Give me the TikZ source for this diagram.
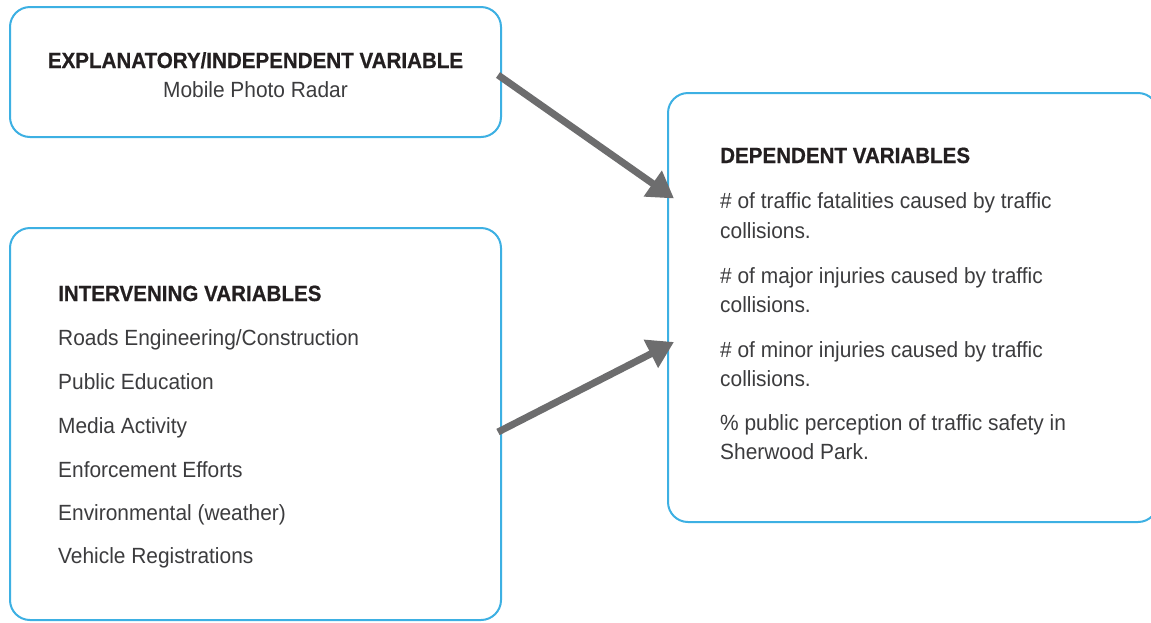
\documentclass[tikz,border=0pt]{standalone}
\usepackage{fontspec}
\setmainfont{Liberation Sans}[FakeStretch=0.95,BoldFeatures={FakeStretch=0.935,FakeBold=0.6}]
\usetikzlibrary{arrows.meta,calc}
\definecolor{frameblue}{HTML}{3DB0E3}
\definecolor{arrowgray}{HTML}{6D6D6E}
\definecolor{headink}{HTML}{231F20}
\definecolor{bodyink}{HTML}{3C3C3E}
\tikzset{
  varbox/.style={draw=frameblue, line width=2pt, rounded corners=20pt, inner sep=0pt},
  head/.style={font=\fontsize{22}{26}\selectfont\bfseries, text=headink, inner sep=0pt},
  item/.style={font=\fontsize{22}{26}\selectfont, text=bodyink, inner sep=0pt},
  link/.style={draw=arrowgray, line width=7pt, -{Triangle[length=26pt,width=30pt]}}
}
\begin{document}
\begin{tikzpicture}[x=1pt,y=-1pt]
\clip (0,0) rectangle (1151,622);
\fill[white] (0,0) rectangle (1151,622);

% the three variable groups
\node[varbox, minimum width=491pt, minimum height=130pt] (expl) at (255.5,72) {};
\node[varbox, minimum width=491pt, minimum height=392pt] (interv) at (255.5,424) {};
\node[varbox, minimum width=490pt, minimum height=429pt] (dep) at (913,307.5) {};

% explanatory variable
\node[head, anchor=base] (explhead) at (255.5,68) {EXPLANATORY/INDEPENDENT VARIABLE};
\node[item, anchor=base] (explitem) at (255.5,97) {Mobile Photo Radar};

% intervening variables
\node[head, anchor=base west] (intervhead) at (58,301) {INTERVENING VARIABLES};
\node[item, anchor=base west] (iv1) at (58,345) {Roads Engineering/Construction};
\node[item, anchor=base west] (iv2) at (58,389) {Public Education};
\node[item, anchor=base west] (iv3) at (58,433) {Media Activity};
\node[item, anchor=base west] (iv4) at (58,477) {Enforcement Efforts};
\node[item, anchor=base west] (iv5) at (58,520) {Environmental (weather)};
\node[item, anchor=base west] (iv6) at (58,563) {Vehicle Registrations};

% dependent variables
\node[head, anchor=base west] (dephead) at (720,163) {DEPENDENT VARIABLES};
\node[item, anchor=base west] (dv1a) at (720,208) {\# of traffic fatalities caused by traffic};
\node[item, anchor=base west] (dv1b) at (720,238) {collisions.};
\node[item, anchor=base west] (dv2a) at (720,283) {\# of major injuries caused by traffic};
\node[item, anchor=base west] (dv2b) at (720,312) {collisions.};
\node[item, anchor=base west] (dv3a) at (720,357) {\# of minor injuries caused by traffic};
\node[item, anchor=base west] (dv3b) at (720,386) {collisions.};
\node[item, anchor=base west] (dv4a) at (720,430) {\% public perception of traffic safety in};
\node[item, anchor=base west] (dv4b) at (720,459) {Sherwood Park.};

% influence arrows
\coordinate (explout) at ([xshift=-4pt,yshift=-3pt]expl.east);
\coordinate (intervout) at ([xshift=-4pt,yshift=-8pt]interv.east);
\coordinate (depin1) at ([xshift=7pt]$(dep.north west)!0.247!(dep.south west)$);
\coordinate (depin2) at ([xshift=7pt]$(dep.north west)!0.58!(dep.south west)$);
\draw[link] (explout) -- (depin1);
\draw[link] (intervout) -- (depin2);
\end{tikzpicture}
\end{document}
